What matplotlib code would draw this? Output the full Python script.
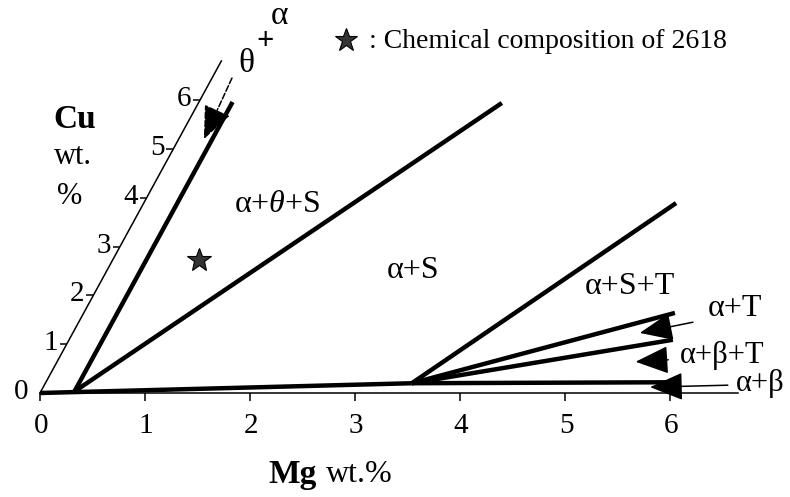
import matplotlib
matplotlib.use('Agg')
import matplotlib.pyplot as plt
from matplotlib.transforms import Affine2D, offset_copy
import matplotlib.markers as mmarkers

plt.rcParams['font.family'] = ['Liberation Serif', 'DejaVu Serif']
plt.rcParams['mathtext.fontset'] = 'custom'
plt.rcParams['mathtext.rm'] = 'Liberation Serif'
plt.rcParams['mathtext.it'] = 'Liberation Serif:italic'

# ---------------- data (Mg wt.%, Cu wt.%) ----------------
mg_ticks = [0, 1, 2, 3, 4, 5, 6]
cu_ticks = [0, 1, 2, 3, 4, 5, 6]
mg_axis_end = 6.65
cu_axis_end = 6.8

node_theta = (0.32, 0.03)      # alpha / alpha+theta+S corner
node_T = (3.49, 0.20)          # alpha+S+T / alpha+beta+T corner
theta_line_end = (0.32, 5.96)
s_line_end = (2.89, 5.94)
fan_end_mg = [5.07, 5.63, 5.75, 5.96]
fan_end_cu = [3.89, 1.64, 1.09, 0.22]

alloy_2618_mg = [0.82]
alloy_2618_cu = [2.72]

# ---------------- figure ----------------
W, H = 790, 497
fig = plt.figure(figsize=(W / 100, H / 100), dpi=100)
ax = fig.add_axes([0, 0, 1, 1])
ax.set_xlim(-40 / 105, 750 / 105)
ax.set_ylim(-104 / 105, 393 / 105)
ax.axis('off')

# oblique (Mg, Cu) coordinate system
oblique = Affine2D.from_values(1, 0, 0.254, 0.465, 0, 0) + ax.transData

thick = dict(color='black', lw=3.2, solid_capstyle='butt', transform=oblique)
thin = dict(color='black', lw=1.1, transform=oblique)

# axes
ax.plot([0, mg_axis_end], [0, 0], **thin)
ax.plot([0, 0], [0, cu_axis_end], **thin)
ax.plot(mg_ticks, [0] * len(mg_ticks), ls='none', marker=mmarkers.TICKDOWN,
        ms=6, mew=1.1, color='black', transform=oblique)
ax.plot([0] * len(cu_ticks[1:]), cu_ticks[1:], ls='none', marker=mmarkers.TICKLEFT,
        ms=5, mew=1.1, color='black', transform=oblique)

# tick labels
for v in mg_ticks:
    ax.text(v, 0, str(v), transform=offset_copy(oblique, fig, x=1, y=-33, units='dots'),
            ha='center', va='center', fontsize=21)
for v in cu_ticks:
    dx = -16 if v > 0 else -19
    ax.text(0, v, str(v), transform=offset_copy(oblique, fig, x=dx, y=1, units='dots'),
            ha='center', va='center', fontsize=21)

# phase boundaries
ax.plot([0, node_T[0]], [0, node_T[1]], **thick)
ax.plot([node_theta[0], theta_line_end[0]], [node_theta[1], theta_line_end[1]], **thick)
ax.plot([node_theta[0], s_line_end[0]], [node_theta[1], s_line_end[1]], **thick)
for m, c in zip(fan_end_mg, fan_end_cu):
    ax.plot([node_T[0], m], [node_T[1], c], **thick)

# alloy 2618
ax.plot(alloy_2618_mg, alloy_2618_cu, ls='none', marker='*', ms=18,
        mfc='#333333', mec='black', mew=0.8, transform=oblique)

# arrows
arrow = dict(arrowstyle='-|>,head_length=1.3,head_width=0.55', color='black',
             lw=1.1, mutation_scale=16, shrinkA=0, shrinkB=0)
ax.annotate('', xy=(0.24, 5.2), xytext=(0.19, 6.45), xycoords=oblique,
            textcoords=oblique, arrowprops=dict(arrow, linestyle=(0, (4, 1.5))))
ax.annotate('', xy=(5.40, 1.23), xytext=(5.85, 1.45), xycoords=oblique,
            textcoords=oblique, arrowprops=arrow)
ax.annotate('', xy=(5.51, 0.64), xytext=(5.81, 0.68), xycoords=oblique,
            textcoords=oblique, arrowprops=arrow)
ax.annotate('', xy=(5.78, 0.12), xytext=(6.51, 0.16), xycoords=oblique,
            textcoords=oblique, arrowprops=arrow)


def ptext(px, py, s, **kw):
    kw.setdefault('fontsize', 20)
    kw.setdefault('ha', 'center')
    kw.setdefault('va', 'center')
    fig.text(px / W, 1 - py / H, s, **kw)


# legend
fig.add_artist(plt.Line2D([346 / W], [1 - 40 / H], ls='none', marker='*', ms=17,
                          mfc='#333333', mec='black', mew=0.8))
ptext(369, 42, ': Chemical composition of 2618', ha='left', fontsize=20)

# phase labels
ptext(246, 64, 'θ', fontsize=24)
ptext(265, 41, '+', fontweight='bold', fontsize=22)
ptext(279, 16, 'α', fontsize=24)
ptext(277, 204, r'α+$\theta$+S', fontsize=23)
ptext(413, 270, 'α+S', fontsize=23)
ptext(630, 287, 'α+S+T', fontsize=23)
ptext(735, 309, 'α+T', fontsize=23)
ptext(722, 355, 'α+β+T', fontsize=22)
ptext(760, 384, 'α+β', fontsize=22)

# axis titles
ptext(75, 120, 'Cu', fontweight='bold', fontsize=24)
ptext(73, 157, 'wt.', fontsize=22)
ptext(70, 197, '%', fontsize=22)
ptext(268, 474, 'Mg', fontweight='bold', fontsize=24, ha='left')
ptext(326, 474, 'wt.%', ha='left', fontsize=23)

fig.savefig('out.png', dpi=100)
